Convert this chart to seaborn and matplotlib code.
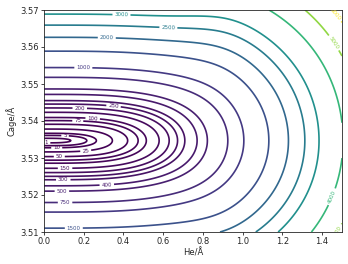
import numpy as np
import matplotlib
matplotlib.use("Agg")
import matplotlib.pyplot as plt
import seaborn as sns

# Contour levels (energies)
levels = [1, 5, 10, 25, 50, 75, 100, 150, 200, 250, 300, 400, 500, 750,
          1000, 1500, 2000, 2500, 3000, 4000, 5000, 6000]

# Axis ranges and ticks
x_range = [0.0, 1.5]
y_range = [3.51, 3.57]
x_ticks = [0.0, 0.2, 0.4, 0.6, 0.8, 1.0, 1.2, 1.4]
y_ticks = [3.51, 3.52, 3.53, 3.54, 3.55, 3.56, 3.57]

# Surface parameters estimated from contour positions in the picture
y_min = 3.5347        # cage size at the minimum
k_upper = 2.566e6     # curvature above minimum
k_lower = 2.68e6      # curvature below minimum
a_he = 980.0          # He displacement term amplitude
p_he = 3.44           # He displacement term power
soft = 0.22           # softening of cage curvature with He displacement
w_soft = 0.826
n_soft = 6

# Label positions (data coords)
label_levels = [1, 5, 10, 25, 50, 75, 100, 150, 200, 250, 300, 400, 500,
                750, 1000, 1500, 2000, 2500, 3000, 4000, 5000, 5000, 6000]
label_x = [0.013, 0.106, 0.064, 0.21, 0.077, 0.17, 0.245, 0.106, 0.18, 0.35,
           0.097, 0.316, 0.09, 0.106, 0.198, 0.15, 0.316, 0.626, 0.39, 1.45,
           1.47, 1.46, 1.468]
label_y = [3.5344, 3.5358, 3.5329, 3.5322, 3.5305, 3.5401, 3.5414, 3.5274,
           3.5437, 3.5443, 3.5242, 3.5232, 3.5212, 3.5179, 3.5546, 3.5112,
           3.5629, 3.5657, 3.5691, 3.524, 3.5134, 3.5601, 3.5678]

sns.set_style("ticks")


def energy(X, Y):
    d = Y - y_min
    k = np.where(d > 0, k_upper, k_lower)
    r = 1.0 - soft * (1.0 - np.exp(-(X / w_soft) ** n_soft))
    return k * r * d ** 2 + a_he * X ** p_he


xs = np.linspace(x_range[0], x_range[1], 401)
ys = np.linspace(y_range[0], y_range[1], 401)
X, Y = np.meshgrid(xs, ys)
Z = energy(X, Y)

fig = plt.figure(figsize=(3.48, 2.64), dpi=100)
ax = fig.add_axes([44 / 348, 1 - 232 / 264, 298 / 348, 222 / 264])

cmap = sns.color_palette("viridis", as_cmap=True)
cs = ax.contour(X, Y, Z, levels=levels, cmap=cmap, linewidths=1.2)

# snap each label position onto the corresponding contour of the surface
yf = np.linspace(y_range[0], y_range[1], 6001)
manual = []
for lev, lx, ly in zip(label_levels, label_x, label_y):
    if ly >= y_min:
        seg = yf[yf >= y_min]
    else:
        seg = yf[yf < y_min][::-1]
    zc = energy(np.full_like(seg, lx), seg)
    idx = np.argmax(zc >= lev) if np.any(zc >= lev) else len(seg) - 1
    manual.append((lx, seg[idx]))

ax.clabel(cs, manual=manual, inline=True, fontsize=4, fmt='%d',
          inline_spacing=2)

ax.set_xlim(x_range)
ax.set_ylim(y_range)
ax.set_xticks(x_ticks)
ax.set_yticks(y_ticks)
ax.set_xticklabels([f"{v:.1f}" for v in x_ticks])
ax.set_yticklabels([f"{v:.2f}" for v in y_ticks])
ax.tick_params(labelsize=6, length=2.2, width=0.6, pad=1.5)
for s in ax.spines.values():
    s.set_linewidth(0.6)
ax.set_xlabel("He/Å", fontsize=6, labelpad=1.5)
ax.set_ylabel("Cage/Å", fontsize=6, labelpad=3)

fig.savefig("out.png", dpi=100)
